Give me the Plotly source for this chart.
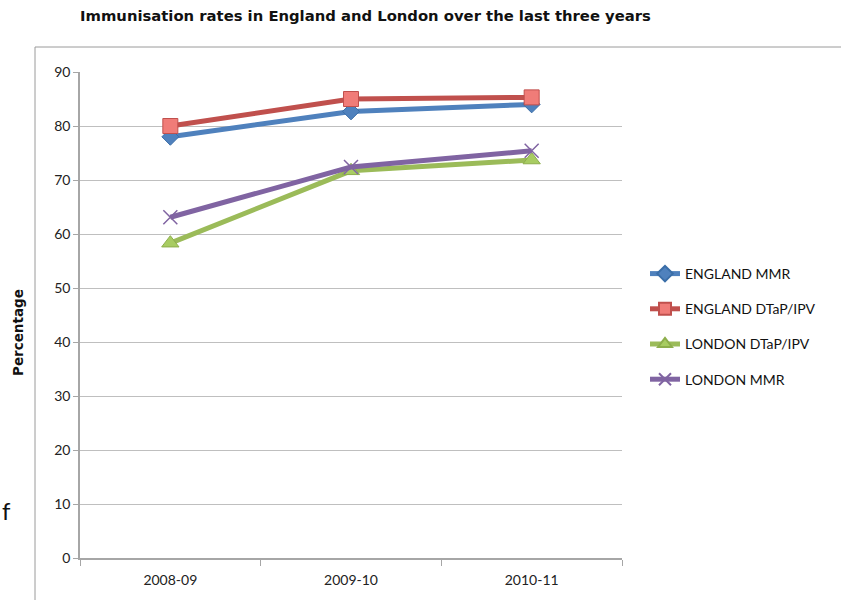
import plotly.graph_objects as go

categories = ["2008-09", "2009-10", "2010-11"]
england_mmr = [78.0, 82.7, 84.0]
england_dtap = [80.0, 85.0, 85.3]
london_dtap = [58.3, 71.7, 73.7]
london_mmr = [63.1, 72.4, 75.4]
y_ticks = [0, 10, 20, 30, 40, 50, 60, 70, 80, 90]

W, H = 841, 600

series = [
    ("ENGLAND MMR", england_mmr, "#4F81BD", dict(symbol="diamond", size=13, color="#4F81BD", line=dict(color="#3A6EA8", width=1))),
    ("ENGLAND DTaP/IPV", england_dtap, "#C0504D", dict(symbol="square", size=15, color="#F07C78", line=dict(color="#C0504D", width=1))),
    ("LONDON DTaP/IPV", london_dtap, "#9BBB59", dict(symbol="triangle-up", size=15, color="#A8CC62", line=dict(color="#8DAE4C", width=1))),
    ("LONDON MMR", london_mmr, "#8064A2", dict(symbol="x-thin", size=14, color="#8064A2", line=dict(color="#8064A2", width=1.5))),
]

fig = go.Figure()
for i, (name, vals, col, mk) in enumerate(series):
    fig.add_trace(go.Scatter(
        x=categories, y=vals, name=name, mode="lines+markers",
        line=dict(color=col, width=5), marker=mk, legendgroup=str(i),
    ))

font_tick = dict(family="Lato, Open Sans, sans-serif", size=14, color="#222222")

fig.update_layout(
    width=W, height=H,
    margin=dict(l=0, r=0, t=0, b=0),
    paper_bgcolor="white", plot_bgcolor="white",
    showlegend=True,
    legend=dict(x=645 / W, y=(600 - 258) / H, xanchor="left", yanchor="top",
                font=dict(family="Lato, Open Sans, sans-serif", size=14, color="#111111"),
                tracegroupgap=14, bgcolor="rgba(0,0,0,0)", itemwidth=30,
                itemsizing="constant"),
    xaxis=dict(domain=[80 / W, 622 / W], type="category", range=[-0.5, 2.5],
               showgrid=False, showline=True, linecolor="#A6A6A6", linewidth=1.5,
               ticks="outside", tickson="boundaries", ticklen=6, tickcolor="#A6A6A6",
               ticklabelstandoff=8,
               tickfont=font_tick, fixedrange=True, automargin=False),
    yaxis=dict(domain=[(600 - 558) / H, (600 - 72) / H], range=[0, 90],
               tickvals=y_ticks, showgrid=True, gridcolor="#BFBFBF", gridwidth=1.2,
               showline=True, linecolor="#A6A6A6", linewidth=1.5,
               ticks="outside", ticklen=5, tickcolor="#A6A6A6", zeroline=False,
               tickfont=font_tick, fixedrange=True, automargin=False),
)

fig.add_annotation(text="<b>Immunisation rates in England and London over the last three years</b>",
                   xref="paper", yref="paper", x=365 / W, y=(600 - 16) / H,
                   xanchor="center", yanchor="middle", showarrow=False,
                   font=dict(family="DejaVu Sans, sans-serif", size=14.8, color="#111111"))
fig.add_annotation(text="<b>Percentage</b>", xref="paper", yref="paper",
                   x=18 / W, y=(600 - 333) / H, textangle=-90,
                   xanchor="center", yanchor="middle", showarrow=False,
                   font=dict(family="DejaVu Sans, sans-serif", size=13.5, color="#111111"))
fig.add_annotation(text="f", xref="paper", yref="paper", x=0, y=(600 - 510) / H,
                   xanchor="left", yanchor="middle", showarrow=False,
                   font=dict(family="Lato, sans-serif", size=24, color="#111111"))

# outer chart border (partially visible)
fig.add_shape(type="line", xref="paper", yref="paper", x0=35 / W, x1=35 / W,
              y0=(600 - 47) / H, y1=-0.05, line=dict(color="#9A9A9A", width=1))
fig.add_shape(type="line", xref="paper", yref="paper", x0=35 / W, x1=1.05,
              y0=(600 - 47) / H, y1=(600 - 47) / H, line=dict(color="#9A9A9A", width=1))

fig.write_html("out.html")
